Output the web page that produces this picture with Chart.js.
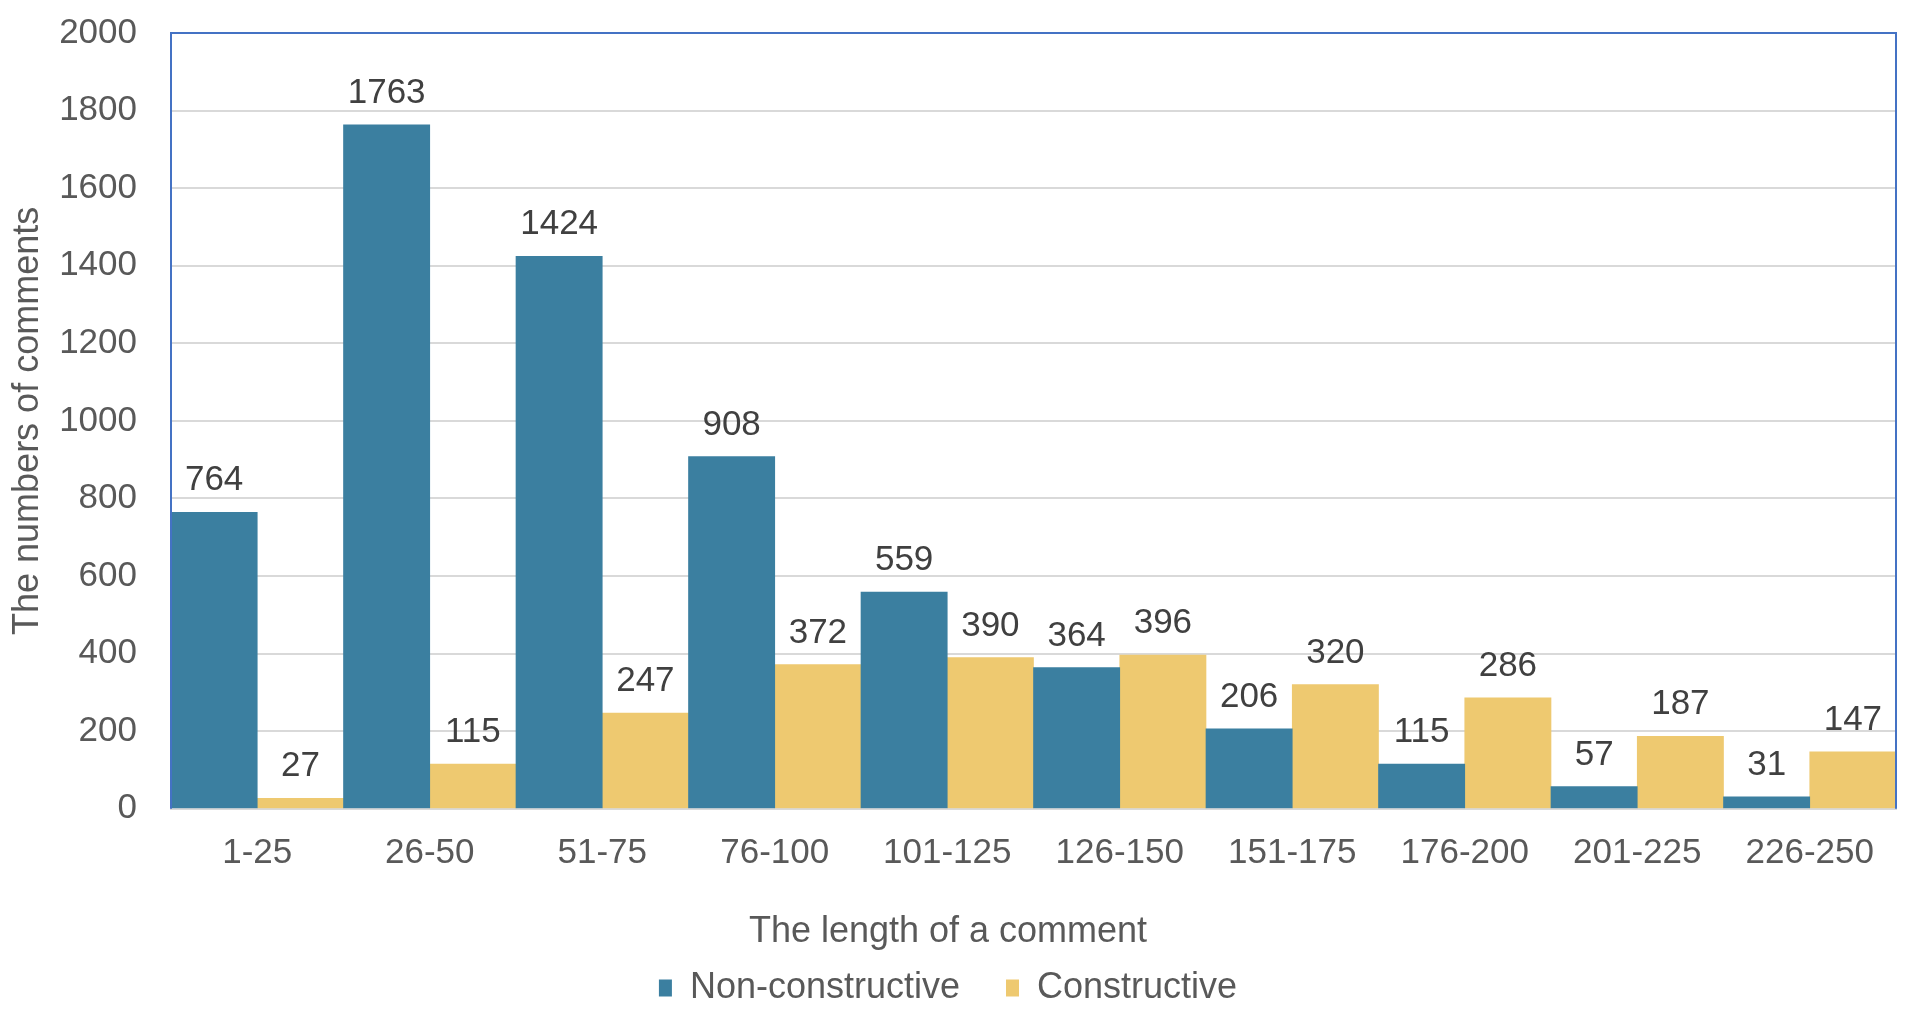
<!DOCTYPE html>
<html>
<head>
<meta charset="utf-8">
<script src="https://cdn.jsdelivr.net/npm/chart.js@4/dist/chart.umd.min.js"></script>
<style>
  html, body { margin: 0; padding: 0; background: #ffffff; }
  #wrap { width: 1912px; height: 1016px; }
</style>
</head>
<body>
<div id="wrap"><canvas id="c" width="1912" height="1016"></canvas></div>
<script>
const categories = ['1-25', '26-50', '51-75', '76-100', '101-125', '126-150', '151-175', '176-200', '201-225', '226-250'];
const nonConstructive = [764, 1763, 1424, 908, 559, 364, 206, 115, 57, 31];
const constructive = [27, 115, 247, 372, 390, 396, 320, 286, 187, 147];
const seriesNames = ['Non-constructive', 'Constructive'];
const xTitle = 'The length of a comment';
const yTitle = 'The numbers of comments';

const FONT = 'Arial, "Liberation Sans", Helvetica, sans-serif';
const NUM_FS = 35;
const TXT_FS = 36;

const dataLabels = {
  id: 'dataLabels',
  afterDatasetsDraw(chart) {
    const ctx = chart.ctx;
    ctx.save();
    ctx.font = NUM_FS + 'px ' + FONT;
    ctx.fillStyle = '#404040';
    ctx.textAlign = 'center';
    ctx.textBaseline = 'alphabetic';
    chart.data.datasets.forEach((ds, di) => {
      const meta = chart.getDatasetMeta(di);
      meta.data.forEach((bar, i) => {
        ctx.fillText(String(ds.data[i]), bar.x, bar.y - 22);
      });
    });
    ctx.restore();
  }
};

const plotBorder = {
  id: 'plotBorder',
  afterDraw(chart) {
    const a = chart.chartArea;
    const ctx = chart.ctx;
    ctx.save();
    ctx.strokeStyle = '#4472C4';
    ctx.lineWidth = 2;
    ctx.beginPath();
    ctx.moveTo(a.left, a.bottom);
    ctx.lineTo(a.left, a.top);
    ctx.lineTo(a.right, a.top);
    ctx.lineTo(a.right, a.bottom);
    ctx.stroke();
    ctx.restore();
  }
};

new Chart(document.getElementById('c'), {
  type: 'bar',
  data: {
    labels: categories,
    datasets: [
      { label: seriesNames[0], data: nonConstructive, backgroundColor: '#3B7FA0', categoryPercentage: 1, barPercentage: 1 },
      { label: seriesNames[1], data: constructive, backgroundColor: '#EEC970', categoryPercentage: 1, barPercentage: 1 }
    ]
  },
  options: {
    responsive: false,
    animation: false,
    devicePixelRatio: 1,
    layout: { padding: { left: 0, right: 16, top: 33, bottom: 0 } },
    plugins: {
      title: {
        display: true,
        position: 'bottom',
        weight: 500,
        text: xTitle,
        color: '#595959',
        font: { family: FONT, size: TXT_FS, weight: 'normal' },
        padding: { top: 0, bottom: -30 }
      },
      legend: {
        position: 'bottom',
        labels: {
          font: { family: FONT, size: TXT_FS },
          color: '#595959',
          boxWidth: 13,
          boxHeight: 17,
          padding: 46
        }
      },
      tooltip: { enabled: false }
    },
    scales: {
      x: {
        grid: { display: false, drawTicks: false },
        border: { display: true, color: '#D9D9D9', width: 2 },
        ticks: { font: { family: FONT, size: NUM_FS }, color: '#595959', padding: 24, maxRotation: 0 },
        afterFit(scale) { scale.height = 102; }
      },
      y: {
        min: 0,
        max: 2000,
        ticks: {
          stepSize: 200,
          font: { family: FONT, size: NUM_FS },
          color: '#595959',
          padding: 34,
          callback: (v) => String(v)
        },
        grid: { color: '#D9D9D9', lineWidth: 2, drawTicks: false },
        border: { display: false },
        title: { display: true, text: yTitle, font: { family: FONT, size: TXT_FS }, color: '#595959', padding: { top: 6, bottom: 0 } },
        afterFit(scale) {
          scale.width = 171;
          scale.paddingTop = 0;
          scale.paddingBottom = 0;
        }
      }
    }
  },
  plugins: [dataLabels, plotBorder]
});
</script>
</body>
</html>
